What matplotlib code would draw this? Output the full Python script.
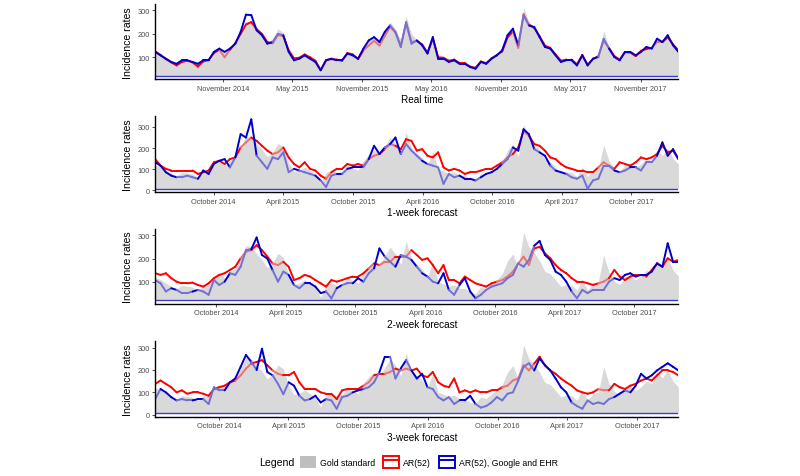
import numpy as np
import pandas as pd
import matplotlib
matplotlib.use('Agg')
import matplotlib.pyplot as plt
import matplotlib.dates as mdates
from matplotlib.collections import LineCollection
from matplotlib.patches import Patch
from matplotlib.lines import Line2D
from matplotlib.ticker import MultipleLocator
from matplotlib.colors import to_rgb

plt.rcParams['font.family'] = ['Liberation Sans', 'DejaVu Sans']

# panel titles and first week of each panel (forecast panels start one week earlier each)
panel_titles = ['Real time', '1-week forecast', '2-week forecast', '3-week forecast']
panel_starts = ['2014-05-08', '2014-05-01', '2014-04-24', '2014-04-17']
baselines = [21, 8, 21, 6]

tick_dates_rt = ['2014-11-01', '2015-05-01', '2015-11-01', '2016-05-01', '2016-11-01', '2017-05-01', '2017-11-01']
tick_labels_rt = ['November 2014', 'May 2015', 'November 2015', 'May 2016', 'November 2016', 'May 2017', 'November 2017']
tick_dates_fc = ['2014-10-01', '2015-04-01', '2015-10-01', '2016-04-01', '2016-10-01', '2017-04-01', '2017-10-01']
tick_labels_fc = ['October 2014', 'April 2015', 'October 2015', 'April 2016', 'October 2016', 'April 2017', 'October 2017']

# biweekly values
gold = [120, 110, 95, 80, 70, 85, 82, 78, 62, 85, 88,
        118, 135, 118, 140, 160, 205, 255, 250, 220, 195, 160,
        180, 222, 205, 130, 90, 95, 110, 95, 75, 35, 85,
        95, 85, 90, 118, 105, 95, 140, 170, 190, 175, 210,
        250, 220, 175, 275, 200, 175, 155, 120, 185, 100, 92,
        80, 88, 72, 72, 55, 50, 80, 72, 95, 110, 135,
        190, 220, 160, 312, 250, 225, 190, 145, 135, 108, 80,
        88, 85, 65, 110, 65, 95, 100, 215, 140, 105, 88,
        122, 125, 108, 125, 150, 140, 190, 165, 200, 150, 125]

ar52_rt = [125, 110, 92, 78, 65, 80, 85, 78, 60, 82, 88,
           118, 132, 100, 132, 160, 200, 240, 250, 220, 200, 165,
           160, 195, 190, 130, 95, 98, 112, 100, 85, 45, 88,
           92, 90, 85, 118, 112, 92, 130, 150, 170, 150, 190,
           230, 205, 150, 245, 165, 170, 155, 120, 180, 100, 98,
           85, 90, 75, 75, 60, 55, 82, 75, 95, 110, 125,
           185, 210, 140, 285, 240, 225, 190, 150, 140, 112, 85,
           90, 90, 70, 110, 68, 92, 105, 170, 140, 105, 90,
           122, 120, 105, 128, 135, 140, 165, 165, 185, 155, 130]

ehr_rt = [123, 108, 94, 80, 72, 87, 87, 80, 72, 87, 87,
          123, 137, 123, 137, 158, 208, 282, 280, 215, 194, 158,
          165, 200, 194, 123, 87, 94, 108, 94, 80, 44, 87,
          94, 87, 87, 116, 108, 94, 137, 172, 186, 165, 208,
          236, 208, 144, 250, 158, 172, 151, 116, 186, 94, 94,
          80, 87, 72, 72, 58, 51, 80, 72, 94, 108, 130,
          194, 222, 151, 279, 236, 229, 186, 144, 137, 108, 80,
          87, 87, 65, 108, 65, 94, 101, 179, 137, 101, 87,
          123, 123, 108, 123, 144, 137, 179, 165, 194, 151, 123]

ar52_1w = [148, 117, 102, 94, 94, 94, 94, 94, 78, 86, 94,
           133, 140, 125, 148, 156, 203, 227, 250, 234, 211, 188,
           172, 180, 203, 156, 125, 109, 133, 102, 94, 70, 55,
           86, 102, 102, 125, 117, 125, 117, 148, 164, 172, 195,
           219, 211, 195, 242, 234, 188, 195, 164, 156, 180, 109,
           94, 102, 94, 78, 86, 86, 94, 102, 102, 117, 133,
           156, 172, 203, 281, 258, 219, 211, 188, 156, 148, 125,
           109, 102, 94, 94, 86, 86, 109, 133, 117, 102, 133,
           125, 117, 133, 156, 148, 156, 172, 211, 180, 188, 148]

ehr_1w = [133, 117, 86, 70, 62, 62, 70, 62, 55, 94, 78,
          125, 140, 148, 109, 156, 266, 250, 336, 164, 133, 102,
          156, 148, 180, 86, 102, 94, 86, 78, 70, 47, 16,
          70, 78, 78, 102, 109, 109, 109, 148, 211, 172, 203,
          219, 250, 172, 219, 188, 164, 140, 125, 117, 109, 31,
          78, 62, 70, 55, 55, 47, 62, 78, 86, 102, 125,
          148, 203, 188, 289, 266, 195, 180, 164, 117, 94, 86,
          78, 62, 55, 70, 8, 47, 55, 117, 117, 94, 86,
          94, 109, 109, 94, 133, 133, 164, 227, 164, 195, 148]

ar52_2w = [137, 130, 137, 116, 101, 94, 94, 97, 87, 80, 94,
           116, 130, 137, 151, 165, 201, 229, 236, 257, 236, 208,
           179, 172, 186, 165, 108, 116, 130, 123, 108, 94, 80,
           108, 101, 108, 116, 123, 123, 137, 158, 179, 172, 186,
           186, 208, 208, 208, 236, 215, 194, 201, 172, 137, 172,
           108, 108, 94, 123, 108, 94, 87, 80, 94, 101, 108,
           123, 144, 179, 208, 172, 243, 250, 222, 201, 172, 151,
           137, 116, 101, 101, 94, 87, 94, 101, 116, 151, 123,
           108, 123, 130, 130, 123, 151, 179, 165, 201, 186, 194]

ehr_2w = [108, 94, 59, 73, 66, 52, 52, 59, 66, 59, 45,
          108, 87, 101, 137, 130, 165, 236, 240, 290, 215, 200,
          150, 101, 144, 130, 87, 73, 94, 94, 80, 52, 59,
          30, 73, 87, 94, 94, 116, 101, 137, 158, 243, 208,
          186, 165, 215, 208, 194, 165, 137, 123, 101, 94, 137,
          66, 45, 87, 116, 59, 30, 45, 66, 80, 87, 94,
          116, 130, 179, 165, 194, 255, 275, 215, 194, 144, 130,
          101, 59, 30, 66, 52, 66, 66, 66, 101, 116, 108,
          130, 137, 123, 130, 130, 144, 179, 165, 265, 186, 186]

ar52_3w = [138, 153, 138, 123, 100, 109, 94, 100, 100, 94, 85,
           115, 123, 130, 145, 153, 176, 206, 229, 236, 244, 221,
           198, 183, 176, 176, 191, 145, 115, 115, 115, 100, 94,
           94, 70, 109, 115, 115, 115, 130, 145, 176, 183, 183,
           191, 206, 198, 206, 198, 206, 176, 168, 191, 145, 130,
           123, 162, 100, 109, 100, 109, 100, 100, 109, 109, 123,
           130, 153, 162, 221, 198, 229, 259, 221, 198, 183, 162,
           145, 130, 109, 100, 94, 100, 115, 109, 109, 138, 123,
           115, 130, 138, 153, 162, 153, 176, 198, 198, 191, 176]

ehr_3w = [70, 115, 100, 79, 64, 70, 64, 64, 70, 70, 48,
          123, 109, 109, 145, 162, 214, 267, 236, 200, 295, 191,
          176, 138, 92, 145, 130, 85, 64, 70, 85, 55, 70,
          64, 27, 79, 85, 100, 109, 115, 123, 145, 191, 259,
          259, 162, 207, 244, 198, 162, 183, 123, 115, 79, 64,
          79, 48, 64, 64, 85, 48, 32, 39, 55, 79, 64,
          94, 100, 153, 214, 230, 198, 252, 221, 198, 162, 123,
          100, 55, 39, 27, 64, 48, 55, 48, 70, 79, 94,
          109, 100, 130, 183, 162, 176, 198, 214, 230, 214, 198]

RED = '#ff0000'
BLUE = '#0000cc'
GREY_AREA = '#d9d9d9'
GREY_KEY = '#bebebe'


def faded(color):
	# lighter version of a colour, used where the estimate is well under the gold standard
	r, g, b = to_rgb(color)
	return (0.5 * r + 0.44, 0.5 * g + 0.44, 0.5 * b + 0.44)


def draw_series(ax, x, y, ref, color):
	y = np.asarray(y, dtype=float)
	ref = np.asarray(ref, dtype=float)
	pts = np.column_stack([x, y])
	segs = np.stack([pts[:-1], pts[1:]], axis=1)
	under = (y[:-1] + y[1:]) < (ref[:-1] + ref[1:]) - 20
	cols = [faded(color) if u else to_rgb(color) for u in under]
	lc = LineCollection(segs, colors=cols, linewidths=1.4, capstyle='round', joinstyle='round')
	ax.add_collection(lc)


def main():
	fig = plt.figure(figsize=(8, 4.77), dpi=100)

	# axes rectangles in figure fractions (left, bottom, width, height)
	rects = [
		[0.194, 0.832, 0.654, 0.157],
		[0.194, 0.595, 0.654, 0.160],
		[0.194, 0.361, 0.654, 0.157],
		[0.194, 0.124, 0.654, 0.158],
	]
	ar52 = [ar52_rt, ar52_1w, ar52_2w, ar52_3w]
	ehr = [ehr_rt, ehr_1w, ehr_2w, ehr_3w]

	for i in range(4):
		ax = fig.add_axes(rects[i])
		dates = pd.date_range(panel_starts[i], periods=len(gold), freq='14D')
		x = mdates.date2num(dates)
		base = baselines[i]

		# gold standard area, with its baseline
		ax.fill_between(x, base, gold, color=GREY_AREA, lw=0)
		ax.axhline(base, color='#3c3cd0', lw=1.0)

		draw_series(ax, x, ar52[i], gold, RED)
		draw_series(ax, x, ehr[i], gold, BLUE)

		# ggplot-like 5% expansion on y, none on x
		hi = max(max(gold), max(ar52[i]), max(ehr[i]))
		pad = 0.05 * (hi - base)
		ax.set_ylim(base - pad, hi + pad)
		ax.set_xlim(x[0], x[-1])
		ax.yaxis.set_major_locator(MultipleLocator(100))

		if i == 0:
			tdates, tlabels = tick_dates_rt, tick_labels_rt
		else:
			tdates, tlabels = tick_dates_fc, tick_labels_fc
		ax.set_xticks(mdates.date2num(pd.to_datetime(tdates)))
		ax.set_xticklabels(tlabels)

		# classic theme: only left and bottom axis lines
		for s in ('top', 'right'):
			ax.spines[s].set_visible(False)
		for s in ('left', 'bottom'):
			ax.spines[s].set_color('black')
			ax.spines[s].set_linewidth(1.0)
		ax.tick_params(axis='both', labelsize=5.3, labelcolor='#4d4d4d', color='#333333',
			length=2.5, width=0.6, pad=1.5)

		ax.set_ylabel('Incidence rates', fontsize=7.6, labelpad=3)
		ax.set_xlabel(panel_titles[i], fontsize=7.2)
		ax.xaxis.set_label_coords(0.51, -0.2)

	# legend at the bottom
	fig.text(259 / 800, 0.0294, 'Legend', fontsize=7.6, va='center', ha='left')
	handles = [
		Patch(facecolor=GREY_KEY, edgecolor='none'),
		(Patch(facecolor='white', edgecolor=RED, lw=1.4), Line2D([], [], color=RED, lw=1.4)),
		(Patch(facecolor='white', edgecolor=BLUE, lw=1.4), Line2D([], [], color=BLUE, lw=1.4)),
	]
	labels = ['Gold standard', 'AR(52)', 'AR(52), Google and EHR']
	fig.legend(handles, labels, loc='center left', bbox_to_anchor=(300 / 800, 0.0294),
		ncol=3, frameon=False, fontsize=6.3, handlelength=1.83, handleheight=1.83,
		handletextpad=0.45, columnspacing=0.9, borderpad=0, borderaxespad=0)

	fig.savefig('out.png', dpi=100)


main()
